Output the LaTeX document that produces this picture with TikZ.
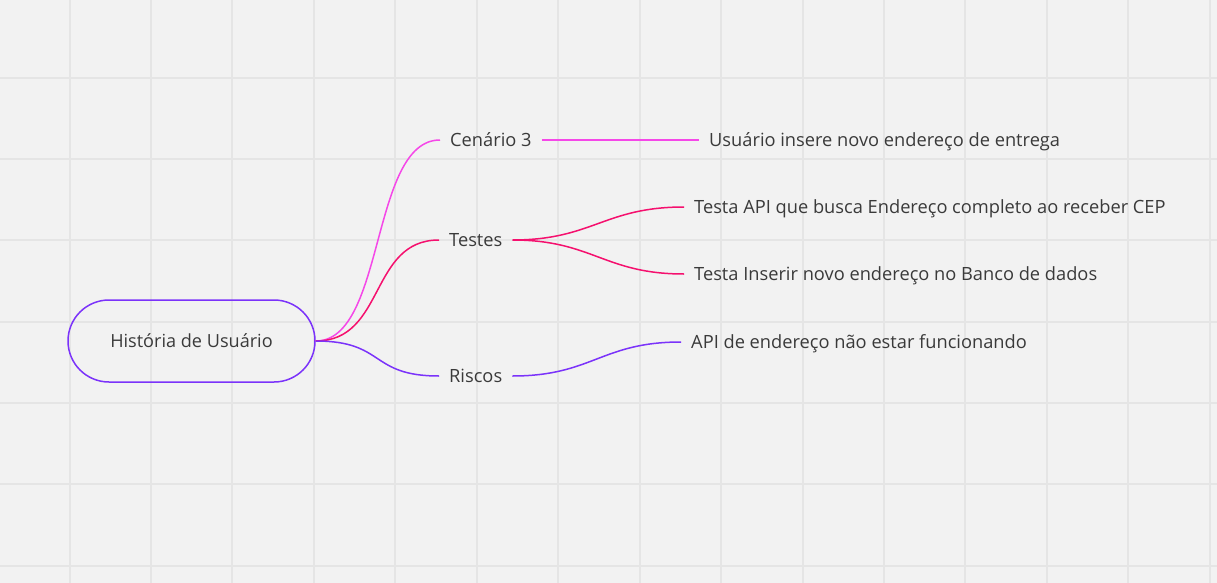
\documentclass[tikz,border=0pt]{standalone}
\usepackage{fontspec}
\setmainfont{Open Sans}
\definecolor{bg}{HTML}{F2F2F2}
\definecolor{gridc}{HTML}{E5E5E5}
\definecolor{txt}{HTML}{3A3A3A}
\definecolor{cmag}{HTML}{F548E8}
\definecolor{cred}{HTML}{F5106E}
\definecolor{cpur}{HTML}{7B33FA}
\begin{document}
\begin{tikzpicture}[x=1pt,y=-1pt,
  lbl/.style={font=\fontsize{18.25}{21}\selectfont, text=txt, inner xsep=10pt, inner ysep=0pt,
    text height=13pt, text depth=0pt, anchor=west},
  rootbox/.style={draw=cpur, line width=1.5pt, rounded corners=41pt, minimum width=247pt,
    minimum height=82pt, font=\fontsize{18.1}{21}\selectfont, text=txt, inner sep=0pt},
  link/.style={line width=1.5pt}]
\useasboundingbox (0,0) rectangle (1217,583);
\fill[bg] (0,0) rectangle (1217,583);
\foreach \i in {0,...,14} {\pgfmathsetmacro{\gx}{round(69.5+81.45*\i)}\draw[gridc, line width=2pt] (\gx,0) -- (\gx,583);}
\foreach \j in {0,...,6} {\pgfmathsetmacro{\gy}{round(77.5+81.4*\j)}\draw[gridc, line width=2pt] (0,\gy) -- (1217,\gy);}

\node[rootbox] (root) at (191.5,341) {História de Usuário};

\node[lbl] (cen) at (440,140) {Cenário 3};
\node[lbl] (tes) at (439,240) {Testes};
\node[lbl] (ris) at (439,376) {Riscos};

\node[lbl] (u1) at (699,140) {Usuário insere novo endereço de entrega};
\node[lbl] (t1) at (684,207) {Testa API que busca Endereço completo ao receber CEP};
\node[lbl] (t2) at (684,274) {Testa Inserir novo endereço no Banco de dados};
\node[lbl] (r1) at (681,342) {API de endereço não estar funcionando};

\draw[link, cmag] (root.east) .. controls +(70,0) and +(-70,0) .. (cen.west);
\draw[link, cred] (root.east) .. controls +(70,0) and +(-70,0) .. (tes.west);
\draw[link, cpur] (root.east) .. controls +(70,0) and +(-70,0) .. (ris.west);

\draw[link, cmag] (cen.east) -- (u1.west);
\draw[link, cred] (tes.east) .. controls +(80,0) and +(-80,0) .. (t1.west);
\draw[link, cred] (tes.east) .. controls +(80,0) and +(-80,0) .. (t2.west);
\draw[link, cpur] (ris.east) .. controls +(80,0) and +(-80,0) .. (r1.west);
\end{tikzpicture}
\end{document}
